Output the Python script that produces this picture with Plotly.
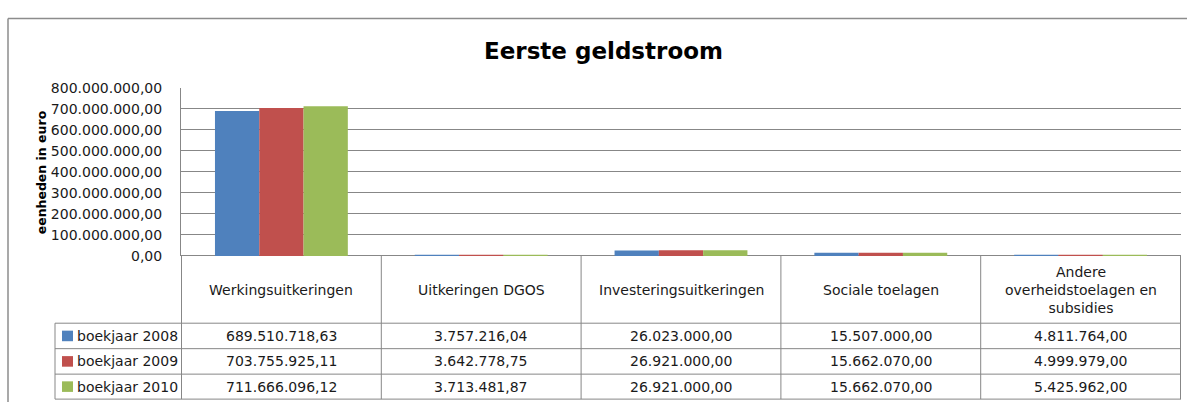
import plotly.graph_objects as go

W, H = 1187, 410

categories = ["Werkingsuitkeringen", "Uitkeringen DGOS", "Investeringsuitkeringen",
              "Sociale toelagen", "Andere overheidstoelagen en subsidies"]
category_labels = ["Werkingsuitkeringen", "Uitkeringen DGOS", "Investeringsuitkeringen",
                   "Sociale toelagen", "Andere<br>overheidstoelagen en<br>subsidies"]
series_names = ["boekjaar 2008", "boekjaar 2009", "boekjaar 2010"]
values_2008 = [689510718.63, 3757216.04, 26023000.00, 15507000.00, 4811764.00]
values_2009 = [703755925.11, 3642778.75, 26921000.00, 15662070.00, 4999979.00]
values_2010 = [711666096.12, 3713481.87, 26921000.00, 15662070.00, 5425962.00]
colors = ["#4F81BD", "#C0504D", "#9BBB59"]
title_text = "Eerste geldstroom"
y_title = "eenheden in euro"

all_series = [values_2008, values_2009, values_2010]

FONT = "DejaVu Sans"
GRID = "#878787"
TXT = "#1a1a1a"


def nl(v):
    s = f"{v:,.2f}"
    return s.replace(",", "X").replace(".", ",").replace("X", ".")


def px(x):
    return x / W


def py(y):
    return 1 - y / H


# layout geometry in pixels
PL, PR, PT, PB = 181, 1181, 83, 258
ROWS = [328, 354.5, 381, 407]
LEG_L = 55

fig = go.Figure()
for name, vals, col in zip(series_names, all_series, colors):
    fig.add_trace(go.Bar(x=categories, y=vals, name=name, marker_color=col,
                         marker_line_width=0, showlegend=False))

shapes = []
annotations = []

# outer chart border (top and left visible; right/bottom fall outside the view)
shapes.append(dict(type="line", xref="paper", yref="paper", x0=px(8), x1=1,
                   y0=py(11), y1=py(11), line=dict(color="#8c8c8c", width=1.5)))
shapes.append(dict(type="line", xref="paper", yref="paper", x0=px(8), x1=px(8),
                   y0=0, y1=py(11), line=dict(color="#8c8c8c", width=1.5)))

# table vertical lines at category boundaries
for i in range(len(categories) + 1):
    shapes.append(dict(type="line", xref="x", yref="paper", x0=i - 0.5, x1=i - 0.5,
                       y0=py(ROWS[-1]), y1=py(PB), line=dict(color=GRID, width=1)))
# legend column left edge
shapes.append(dict(type="line", xref="paper", yref="paper", x0=px(LEG_L), x1=px(LEG_L),
                   y0=py(ROWS[-1]), y1=py(ROWS[0]), line=dict(color=GRID, width=1)))
# horizontal table lines
for r in ROWS:
    shapes.append(dict(type="line", xref="paper", yref="paper", x0=px(LEG_L), x1=px(PR),
                       y0=py(r), y1=py(r), line=dict(color=GRID, width=1)))

# header labels
for i, lab in enumerate(category_labels):
    annotations.append(dict(x=i, y=py((PB + ROWS[0]) / 2), xref="x", yref="paper",
                            text=lab, showarrow=False, xanchor="center", yanchor="middle",
                            font=dict(family=FONT, size=14, color=TXT)))

# data rows
for r, (name, vals, col) in enumerate(zip(series_names, all_series, colors)):
    top, bot = ROWS[r], ROWS[r + 1]
    cy = (top + bot) / 2
    shapes.append(dict(type="rect", xref="paper", yref="paper", x0=px(62), x1=px(73),
                       y0=py(cy + 5.5), y1=py(cy - 5.5), fillcolor=col, line=dict(width=0)))
    annotations.append(dict(x=px(75), y=py(cy), xref="paper", yref="paper", text=name,
                            showarrow=False, xanchor="left", yanchor="middle",
                            font=dict(family=FONT, size=14, color=TXT)))
    for i, v in enumerate(vals):
        annotations.append(dict(x=i, y=py(cy), xref="x", yref="paper", text=nl(v),
                                showarrow=False, xanchor="center", yanchor="middle",
                                font=dict(family=FONT, size=14, color=TXT)))

# title and y-axis title
annotations.append(dict(x=px(604), y=py(45), xref="paper", yref="paper", text=f"<b>{title_text}</b>",
                        showarrow=False, xanchor="center", yanchor="middle",
                        font=dict(family=FONT, size=23, color="black")))
annotations.append(dict(x=px(41), y=py(171), xref="paper", yref="paper", text=f"<b>{y_title}</b>",
                        showarrow=False, xanchor="center", yanchor="middle", textangle=-90,
                        font=dict(family=FONT, size=12.5, color="black")))

fig.update_layout(
    width=W, height=H,
    margin=dict(l=0, r=0, t=0, b=0),
    paper_bgcolor="white", plot_bgcolor="white",
    separators=",.",
    barmode="group", bargap=0.335, bargroupgap=0,
    shapes=shapes, annotations=annotations,
    xaxis=dict(domain=[px(PL), px(PR)], showticklabels=False, ticks="",
               showgrid=False, showline=False, zeroline=False),
    yaxis=dict(domain=[py(PB), py(PT)], range=[0, 800000000], dtick=100000000,
               tickformat=",.2f", showgrid=True, gridcolor=GRID, gridwidth=1,
               showline=True, linecolor=GRID, linewidth=1, zeroline=True,
               zerolinecolor=GRID, zerolinewidth=1, ticks="", ticklabelstandoff=15,
               tickfont=dict(family=FONT, size=14, color=TXT)),
)

post = ("document.documentElement.style.margin='0';document.documentElement.style.padding='0';"
        "document.body.style.margin='0';document.body.style.padding='0';"
        "document.body.style.overflow='hidden';"
        "var gd=document.getElementById('{plot_id}');"
        "gd.style.position='fixed';gd.style.left='0px';gd.style.top='0px';")

fig.write_html("out.html", config={"displayModeBar": False}, post_script=post)
